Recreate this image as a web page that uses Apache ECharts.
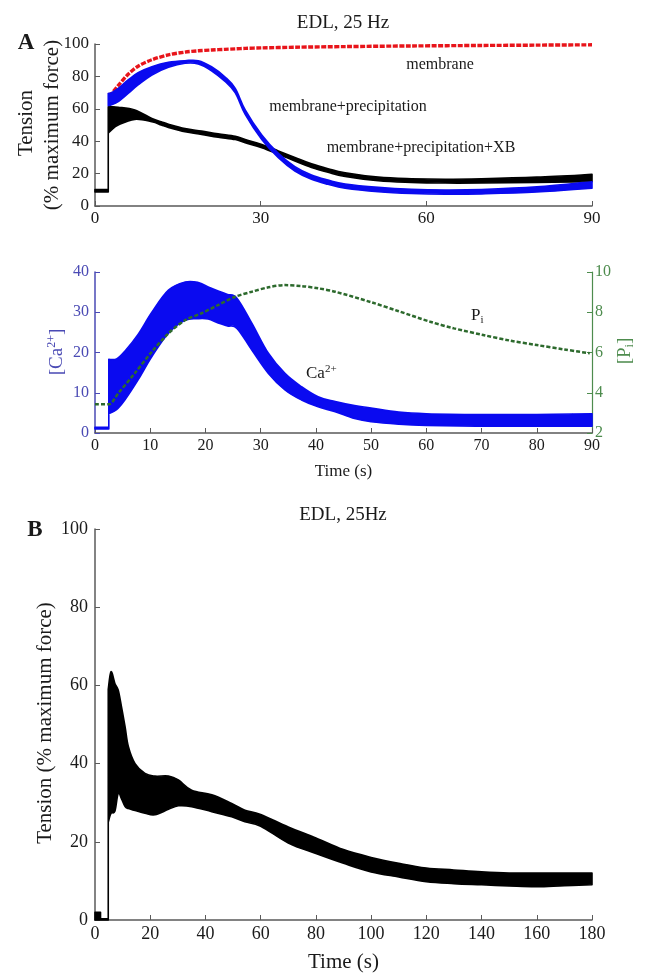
<!DOCTYPE html>
<html>
<head>
<meta charset="utf-8">
<script src="https://cdn.jsdelivr.net/npm/echarts/dist/echarts.min.js"></script>
<style>
html,body{margin:0;padding:0;background:#fff}
#chart{width:647px;height:977px}
</style>
</head>
<body>
<div id="chart"></div>
<script>
// panel A, top: tension traces (% max force)
const redTime = [2.4,3,4.2,6,7.8,10.3,13.3,16.3,18.7,21.1,23.5,25.4,27.2,30.2,36.2,45.3,57.3,70,80,90]
const redVal  = [68.5,69.5,74.3,81.3,86.3,90.3,93.3,95,95.8,96.3,96.7,97,97.3,97.6,98,98.4,98.8,99.1,99.3,99.5]

const blueTime  = [2.4,3,4.2,6,7.8,10.3,13.3,16.3,18.7,21.1,23.5,25.4,27.2,30.2,33.2,36.2,39.2,42.2,45.3,51.3,57.3,63.4,70,80,90]
const blueUpper = [69.5,70,72.6,77.8,82.3,86,88.7,89.7,89.7,86,79.8,72.6,59.3,43.8,32.5,24.3,19.1,16,13.6,11.5,10.3,9.9,10.2,11.8,15]
const blueLower = [62,62.5,64.4,69.5,74.7,80.9,85.6,88.1,87.7,83.5,77,69.8,56.5,41,29.8,21.6,16.5,13.4,11,8.8,7.7,7.3,7.5,8.6,11]

const blackTime  = [0,2.4,2.4,3,4.2,7.2,10.3,12,13.3,16.3,19.3,22.3,25.4,27.2,30.2,33.2,36.2,39.2,42.2,45.3,51.3,57.3,63.4,70,80,90]
const blackUpper = [10.2,10.2,61.3,61.3,61,59.3,54,52,50.5,47.8,46.2,44.5,43,41,38,34,30,26,23,20.5,17.8,16.8,16.5,16.8,17.8,19.5]
const blackLower = [8.6,8.6,45,47,50,53.5,52,50,48.5,45.8,44.2,42.5,41,39,36,32,27.8,23.8,20.8,18.3,15.6,14.6,14.2,14.2,14.6,15]

// panel A, bottom: Ca2+ band and Pi
const caTime  = [0,2.5,2.5,3.9,5.4,7.8,10.3,13.3,16.3,18.7,20.5,22.3,24,25.7,28.4,31.4,34.4,37.4,40.4,43.5,47,50,55,60,70,80,90]
const caUpper = [1.4,1.4,18.3,18.4,20.3,24.5,30,35.5,37.5,37.4,36.3,35.3,34.4,33.5,27.3,19.8,14.8,11.5,9,7.8,6.8,6.2,5.2,4.8,4.6,4.6,4.8]
const caLower = [1,1,4.8,5.8,8.2,13.2,19,24.8,28,28.4,28.3,27.3,26.6,26,20.6,14.8,10.7,8.2,6.5,5.3,3.6,2.8,2.2,1.9,1.7,1.7,1.7]

const piTime = [0,2.5,4.2,7.2,10.3,13.3,16.3,19.3,22.3,25.4,28.4,31.4,34.4,37.4,40.4,43.5,50,55,60.7,65,70.3,75,80,85,89.6]
const piVal  = [3.43,3.43,3.97,4.97,6.04,6.95,7.6,7.95,8.36,8.77,9.02,9.24,9.35,9.3,9.19,9.02,8.5,8.05,7.53,7.2,6.87,6.6,6.37,6.15,5.96]

// panel B: tension, 180 s
const bTime  = [0,2,2,4.8,4.8,5.8,7.2,8.4,9.6,10.9,12.1,14.5,18.1,21.7,26.6,30.2,35,42.3,49.5,54.3,60,70,80,90,100,110,120,130,140,150,160,170,180]
const bUpper = [2,2,0.3,0.3,59,63.5,60.5,58.8,54.5,49.4,44.3,40,37.5,36.8,36.8,35.8,33.2,32,29.8,28.1,27,23.8,21,18,16,14.5,13.3,12.8,12.3,12,12,12,12]
const bLower = [0,0,0,0,25,27.3,27.8,32.4,31,29,28.5,28,27.3,26.9,28.3,29.2,29,27.7,26.4,25.1,24,19.7,17,14.5,12.3,11,9.8,9.3,9,8.7,8.5,8.8,9]

const serif = '"Liberation Serif","DejaVu Serif",serif'
const axisGray = '#5a5a5a'
const caColor = '#4a4ab4'
const piAxisColor = '#4e8c4e'

function pairs(t, v){
  return t.map((x,i)=>[x, v[i]])
}

const f = n => n.toFixed(2)

// svg path through pixel points, curved between points, straight on jumps (same x)
function splinePath(pts, first){
  let d = ''
  const same = (a,b) => Math.abs(a[0]-b[0]) < 0.5
  for(let i=0;i<pts.length;i++){
    const p = pts[i]
    if(i === 0){
      d += (first ? 'M' : 'L') + f(p[0]) + ' ' + f(p[1]) + ' '
      continue
    }
    const a = pts[i-1]
    if(same(a,p)){ d += 'L' + f(p[0]) + ' ' + f(p[1]) + ' '; continue }
    const a0 = (i>1 && !same(pts[i-2],a)) ? pts[i-2] : a
    const p1 = (i<pts.length-1 && !same(pts[i+1],p)) ? pts[i+1] : p
    const k = 0.18
    d += 'C' + f(a[0]+(p[0]-a0[0])*k) + ' ' + f(a[1]+(p[1]-a0[1])*k) + ' '
      + f(p[0]-(p1[0]-a[0])*k) + ' ' + f(p[1]-(p1[1]-a[1])*k) + ' '
      + f(p[0]) + ' ' + f(p[1]) + ' '
  }
  return d
}

// filled band between lower and upper edges
function band(times, lo, hi, color, xi, yi, z){
  return {
    type:'custom',
    xAxisIndex:xi,
    yAxisIndex:yi,
    z:z,
    silent:true,
    data:times.map((t,i)=>[t, lo[i], hi[i]]),
    encode:{x:0, y:[1,2]},
    renderItem:function(params, api){
      if(params.dataIndex !== 0) return null
      const up = times.map((t,i)=>api.coord([t, hi[i]]))
      const dn = times.map((t,i)=>api.coord([t, lo[i]])).reverse()
      const d = splinePath(up, true) + splinePath(dn, false) + 'Z'
      return {
        type:'path',
        shape:{pathData:d},
        style:{fill:color, stroke:color, lineWidth:1.6, lineJoin:'round'}
      }
    }
  }
}

function valueAxis(gi, min, max, interval, opts){
  return Object.assign({
    type:'value',
    gridIndex:gi,
    min:min, max:max, interval:interval,
    axisLine:{show:true, lineStyle:{color:axisGray, width:1.5}},
    axisTick:{show:true, inside:true, length:5, lineStyle:{color:axisGray}},
    splitLine:{show:false},
    axisLabel:{color:'#1a1a1a', fontFamily:serif, fontSize:17, margin:6}
  }, opts || {})
}

function label(text, x, y, size, opts){
  const o = opts || {}
  return {
    type:'text',
    x:x, y:y,
    rotation:o.rotate ? Math.PI/2 : 0,
    style:{
      text:text,
      font:(o.bold ? 'bold ' : '') + size + 'px ' + serif,
      fill:o.color || '#1a1a1a',
      textAlign:o.align || 'center',
      textVerticalAlign:'middle',
      align:o.align || 'center',
      verticalAlign:'middle',
      rich:o.rich
    }
  }
}

const supRich = function(color, size){
  return {
    sup:{fontSize:Math.round(size*0.62), fontFamily:serif, fill:color, color:color, padding:[0,0,Math.round(size*0.55),0]},
    sub:{fontSize:Math.round(size*0.62), fontFamily:serif, fill:color, color:color, padding:[Math.round(size*0.55),0,0,0]}
  }
}

const options = {
  animation:false,
  backgroundColor:'#fff',
  grid:[
    {left:95, right:55, top:44, height:162},
    {left:95, right:55, top:272, height:161},
    {left:95, right:55, top:529, height:391}
  ],
  xAxis:[
    valueAxis(0, 0, 90, 30, {axisLabel:{color:'#1a1a1a', fontFamily:serif, fontSize:17, margin:4}}),
    valueAxis(1, 0, 90, 10, {
      name:'Time (s)', nameLocation:'middle', nameGap:30,
      nameTextStyle:{color:'#1a1a1a', fontFamily:serif, fontSize:17},
      axisLabel:{color:'#1a1a1a', fontFamily:serif, fontSize:16, margin:5}
    }),
    valueAxis(2, 0, 180, 20, {
      name:'Time (s)', nameLocation:'middle', nameGap:32,
      nameTextStyle:{color:'#1a1a1a', fontFamily:serif, fontSize:21},
      axisLabel:{color:'#1a1a1a', fontFamily:serif, fontSize:18, margin:5}
    })
  ],
  yAxis:[
    valueAxis(0, 0, 100, 20),
    valueAxis(1, 0, 40, 10, {
      axisLine:{show:true, lineStyle:{color:caColor, width:1.5}},
      axisTick:{show:true, inside:true, length:5, lineStyle:{color:caColor}},
      axisLabel:{color:caColor, fontFamily:serif, fontSize:16, margin:6}
    }),
    valueAxis(1, 2, 10, 2, {
      position:'right',
      axisLine:{show:true, lineStyle:{color:piAxisColor, width:1.2}},
      axisTick:{show:true, inside:true, length:5, lineStyle:{color:piAxisColor}},
      axisLabel:{color:piAxisColor, fontFamily:serif, fontSize:16, margin:3}
    }),
    valueAxis(2, 0, 100, 20, {axisLabel:{color:'#1a1a1a', fontFamily:serif, fontSize:18, margin:7}})
  ],
  series:[
    {
      type:'line', xAxisIndex:0, yAxisIndex:0, z:2,
      data:pairs(redTime, redVal),
      showSymbol:false, smooth:0.3,
      lineStyle:{color:'#e8141a', width:3.4, type:[5,1.5]}
    },
    band(blackTime, blackLower, blackUpper, '#000000', 0, 0, 3),
    band(blueTime, blueLower, blueUpper, '#0a0af0', 0, 0, 4),
    band(caTime, caLower, caUpper, '#0a0af0', 1, 1, 3),
    {
      type:'line', xAxisIndex:1, yAxisIndex:2, z:5,
      data:pairs(piTime, piVal),
      showSymbol:false, smooth:0.3,
      lineStyle:{color:'#2d6a2d', width:2.5, type:[4,2]}
    },
    band(bTime, bLower, bUpper, '#000000', 2, 3, 3)
  ],
  graphic:[
    label('EDL, 25 Hz', 343, 23, 19),
    label('A', 26, 43, 23, {bold:true}),
    label('Tension', 26, 123, 21, {rotate:true}),
    label('(% maximum force)', 52, 125, 21, {rotate:true}),
    label('membrane', 440, 65, 16),
    label('membrane+precipitation', 348, 107, 16),
    label('membrane+precipitation+XB', 421, 148, 16),
    label('[Ca{sup|2+}]', 57, 352, 19, {rotate:true, color:caColor, rich:supRich(caColor, 19)}),
    label('[P{sub|i}]', 625, 351, 19, {rotate:true, color:piAxisColor, rich:supRich(piAxisColor, 19)}),
    label('P{sub|i}', 471, 316, 17, {align:'left', rich:supRich('#1a1a1a', 17)}),
    label('Ca{sup|2+}', 306, 374, 17, {align:'left', rich:supRich('#1a1a1a', 17)}),
    label('B', 35, 530, 23, {bold:true}),
    label('EDL, 25Hz', 343, 515, 19),
    label('Tension (% maximum force)', 45, 723, 21, {rotate:true})
  ]
}

const chart = echarts.init(document.getElementById('chart'), null, {renderer:'canvas'})
chart.setOption(options)
</script>
</body>
</html>
